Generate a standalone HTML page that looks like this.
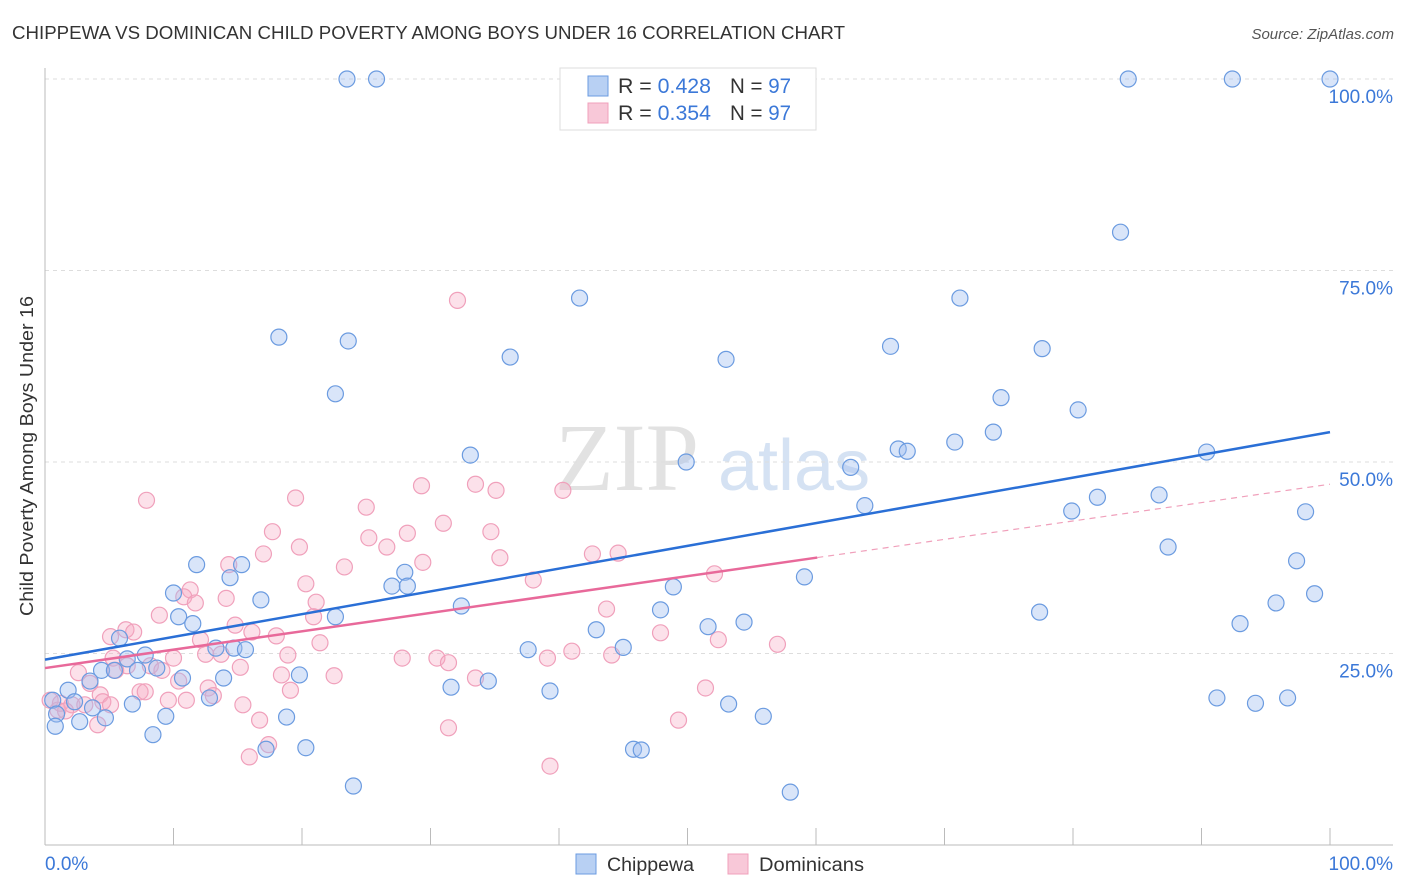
<!DOCTYPE html>
<html><head><meta charset="utf-8"><style>
body{margin:0;background:#fff;font-family:"Liberation Sans",sans-serif;}
svg{display:block}
</style></head><body>
<svg id="chart" width="1406" height="892">
<text x="12" y="39" font-size="18" fill="#333" textLength="833" lengthAdjust="spacingAndGlyphs">CHIPPEWA VS DOMINICAN CHILD POVERTY AMONG BOYS UNDER 16 CORRELATION CHART</text>
<text x="1394" y="39" font-size="15" fill="#555" font-style="italic" text-anchor="end">Source: ZipAtlas.com</text>
<text transform="translate(33,456) rotate(-90)" font-size="18" fill="#333" text-anchor="middle" textLength="320" lengthAdjust="spacingAndGlyphs">Child Poverty Among Boys Under 16</text>
<g>
<text x="555" y="490" font-size="96" font-family="Liberation Serif,serif" fill="#e2e2e2">ZIP</text>
<text x="718" y="490" font-size="72" fill="#d5e2f3">atlas</text>
</g>
<g id="grid"></g><g id="axes"></g><g id="pts"></g><g id="lines"></g>
<g>
<rect x="560" y="68" width="256" height="62" fill="#fff" stroke="#ddd"/>
<rect x="588" y="76" width="20" height="20" fill="#b8d0f3" stroke="#6b9be0"/>
<rect x="588" y="103" width="20" height="20" fill="#f8c8d8" stroke="#f0a0bb"/>
<text x="618" y="93" font-size="21" fill="#333" textLength="93" lengthAdjust="spacingAndGlyphs">R = <tspan fill="#3b78d8">0.428</tspan></text>
<text x="730" y="93" font-size="21" fill="#333" textLength="61" lengthAdjust="spacingAndGlyphs">N = <tspan fill="#3b78d8">97</tspan></text>
<text x="618" y="120" font-size="21" fill="#333" textLength="93" lengthAdjust="spacingAndGlyphs">R = <tspan fill="#3b78d8">0.354</tspan></text>
<text x="730" y="120" font-size="21" fill="#333" textLength="61" lengthAdjust="spacingAndGlyphs">N = <tspan fill="#3b78d8">97</tspan></text>
</g>
<g>
<rect x="576" y="854" width="20" height="20" fill="#b8d0f3" stroke="#6b9be0"/>
<text x="607" y="871" font-size="19" fill="#333" textLength="87" lengthAdjust="spacingAndGlyphs">Chippewa</text>
<rect x="728" y="854" width="20" height="20" fill="#f8c8d8" stroke="#f0a0bb"/>
<text x="759" y="871" font-size="19" fill="#333" textLength="105" lengthAdjust="spacingAndGlyphs">Dominicans</text>
</g>
<text x="45" y="870" font-size="19" fill="#3b78d8">0.0%</text>
<text x="1393" y="870" font-size="19" fill="#3b78d8" text-anchor="end">100.0%</text>
</svg>
<script>
const yTicks=[100,75,50,25];
const yTickLabels=["100.0%","75.0%","50.0%","25.0%"];
const xTicks=[0,10,20,30,40,50,60,70,80,90,100];
const blueX=[23.5,25.8,84.3,92.4,100,83.7,41.6,71.2,18.2,23.6,36.2,53.0,65.8,77.6,22.6,74.4,80.4,73.8,70.8,33.1,66.4,67.1,90.4,49.9,62.7,63.8,81.9,86.7,79.9,98.1,87.4,97.4,11.8,15.3,14.4,10.0,16.8,28.0,27.0,28.2,22.6,59.1,48.9,98.8,95.8,32.4,47.9,10.4,11.5,77.4,5.8,54.4,51.6,42.9,93.0,13.3,14.7,15.6,45.0,37.6,7.8,6.4,4.4,5.4,7.2,8.7,10.7,13.9,19.8,3.5,1.8,31.6,34.5,39.3,0.6,2.3,6.8,12.8,3.7,91.2,96.7,94.2,53.2,0.9,9.4,18.8,4.7,2.7,55.9,0.8,8.4,17.2,20.3,45.8,46.4,24.0,58.0];
const blueY=[100,100,100,100,100,80.0,71.4,71.4,66.3,65.8,63.7,63.4,65.1,64.8,58.9,58.4,56.8,53.9,52.6,50.9,51.7,51.4,51.3,50.0,49.3,44.3,45.4,45.7,43.6,43.5,38.9,37.1,36.6,36.6,34.9,32.9,32.0,35.6,33.8,33.8,29.8,35.0,33.7,32.8,31.6,31.2,30.7,29.8,28.9,30.4,27.0,29.1,28.5,28.1,28.9,25.7,25.7,25.5,25.8,25.5,24.8,24.3,22.8,22.8,22.8,23.1,21.8,21.8,22.2,21.4,20.2,20.6,21.4,20.1,18.9,18.7,18.4,19.2,17.9,19.2,19.2,18.5,18.4,17.1,16.8,16.7,16.6,16.1,16.8,15.5,14.4,12.5,12.7,12.5,12.4,7.7,6.9];
const pinkX=[32.1,7.9,19.5,25.0,29.3,33.5,35.1,40.3,31.0,17.7,34.7,28.2,25.2,26.6,19.8,17.0,35.4,42.6,44.6,29.4,23.3,14.3,52.1,38.0,20.3,11.3,10.8,8.9,11.7,14.1,21.1,20.9,43.7,47.9,14.8,6.3,6.9,5.1,16.1,18.0,12.1,21.4,52.4,57.0,41.0,12.5,13.7,18.9,27.8,30.5,39.1,44.1,5.3,10.0,6.4,8.2,15.2,5.5,9.1,31.4,22.5,18.4,2.6,33.5,10.4,3.5,12.7,19.1,51.4,7.4,4.3,7.8,9.6,11.0,13.1,0.4,4.5,2.1,3.1,5.1,1.0,1.2,1.6,15.4,16.7,4.1,49.3,31.4,17.4,15.9,39.3];
const pinkY=[71.1,45.0,45.3,44.1,46.9,47.1,46.3,46.3,42.0,40.9,40.9,40.7,40.1,38.9,38.9,38.0,37.5,38.0,38.1,36.9,36.3,36.6,35.4,34.6,34.1,33.3,32.4,30.0,31.6,32.2,31.7,29.8,30.8,27.7,28.7,28.1,27.8,27.2,27.8,27.3,26.8,26.4,26.8,26.2,25.3,24.9,24.9,24.8,24.4,24.4,24.4,24.8,24.4,24.4,23.4,23.4,23.2,22.8,22.8,23.8,22.1,22.2,22.5,21.8,21.4,21.1,20.5,20.2,20.5,20.0,19.6,20.0,18.9,18.9,19.5,18.9,18.7,18.3,18.3,18.3,17.6,18.5,17.5,18.3,16.3,15.7,16.3,15.3,13.1,11.5,10.3];
const blueTrend=[24.2,53.9];
const pinkTrend=[23.1,47.1];
const pinkSolidEnd=60.1;

const NS="http://www.w3.org/2000/svg";
const X0=45,X1=1330,Y0=845,Y100=79;
const sx=v=>X0+(X1-X0)*v/100;
const sy=v=>Y0-(Y0-Y100)*v/100;
function mk(tag,attrs,parent){const e=document.createElementNS(NS,tag);for(const k in attrs)e.setAttribute(k,attrs[k]);parent.appendChild(e);return e;}
const grid=document.getElementById('grid'),axes=document.getElementById('axes'),pts=document.getElementById('pts'),lines=document.getElementById('lines');
yTicks.forEach((t,i)=>{
 const l=mk('line',{x1:X0,x2:1393,y1:sy(t),y2:sy(t),stroke:'#ddd','stroke-dasharray':'4,4'},grid);
 
 
 const tx=mk('text',{x:1393,y:sy(t)+24,'font-size':19,fill:'#3b78d8','text-anchor':'end'},axes);
 tx.textContent=yTickLabels[i];
 
 
});
const ya=mk('line',{x1:X0,x2:X0,y1:68,y2:Y0,stroke:'#bbb'},axes);


const xa=mk('line',{x1:X0,x2:1393,y1:Y0,y2:Y0,stroke:'#bbb'},axes);


xTicks.forEach(t=>{
 const l=mk('line',{x1:sx(t),x2:sx(t),y1:Y0,y2:Y0-17,stroke:'#bbb'},axes);
 
 
});
function dots(xs,ys,fill,stroke,name){xs.forEach((v,i)=>{
 const c=mk('circle',{cx:sx(v),cy:sy(ys[i]),r:8,fill:fill,stroke:stroke,'stroke-width':1.2},pts);
 
 
});}
dots(pinkX,pinkY,'rgba(245,170,195,0.35)','#f0a0bb','dominicans-point');
dots(blueX,blueY,'rgba(160,190,240,0.4)','#6b9be0','chippewa-point');
const bl=mk('line',{x1:sx(0),y1:sy(blueTrend[0]),x2:sx(100),y2:sy(blueTrend[1]),stroke:'#2a6fd6','stroke-width':2.5},lines);


const pm=pinkTrend[0]+(pinkTrend[1]-pinkTrend[0])*pinkSolidEnd/100;
const pl=mk('line',{x1:sx(0),y1:sy(pinkTrend[0]),x2:sx(pinkSolidEnd),y2:sy(pm),stroke:'#e8699a','stroke-width':2.5},lines);


const pd=mk('line',{x1:sx(pinkSolidEnd),y1:sy(pm),x2:sx(100),y2:sy(pinkTrend[1]),stroke:'#f0a0bb','stroke-width':1.2,'stroke-dasharray':'6,5'},lines);


</script>
</body></html>
